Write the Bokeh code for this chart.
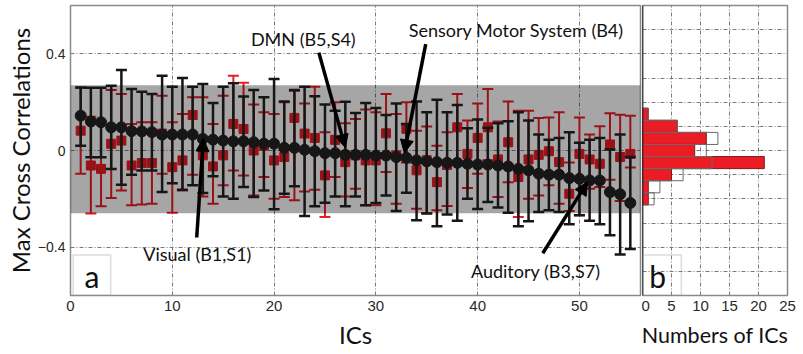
import numpy as np
from bokeh.plotting import figure
from bokeh.layouts import row
from bokeh.models import (ColumnDataSource, Arrow, NormalHead, Label, BoxAnnotation,
                          FixedTicker, Range1d, Span)
from bokeh.embed import file_html
from bokeh.resources import INLINE

# ---- data -------------------------------------------------------------
ic = list(range(1, 56))

black_mean = [0.144, 0.120, 0.117, 0.096, 0.096, 0.080, 0.079, 0.076, 0.066, 0.066,
              0.066, 0.066, 0.048, 0.045, 0.041, 0.038, 0.038, 0.034, 0.028, 0.028,
              0.011, 0.011, 0.003, -0.003, -0.011, -0.011, -0.018, -0.018, -0.018, -0.021,
              -0.021, -0.027, -0.030, -0.041, -0.045, -0.048, -0.051, -0.051, -0.055, -0.058,
              -0.058, -0.062, -0.066, -0.076, -0.082, -0.096, -0.100, -0.100, -0.114, -0.117,
              -0.124, -0.124, -0.172, -0.181, -0.217]
black_hi = [0.261, 0.260, 0.260, 0.268, 0.333, 0.254, 0.243, 0.234, 0.309, 0.264,
            0.300, 0.264, 0.275, 0.197, 0.264, 0.278, 0.223, 0.250, 0.220, 0.296,
            0.203, 0.250, 0.264, 0.224, 0.190, 0.165, 0.202, 0.155, 0.197, 0.176,
            0.147, 0.195, 0.110, 0.203, 0.158, 0.210, 0.158, 0.188, 0.092, 0.128,
            0.094, 0.113, 0.121, 0.158, 0.124, 0.066, 0.045, 0.052, 0.076, 0.032,
            0.044, 0.052, 0.004, 0.066, -0.027]
black_lo = [0.020, -0.028, -0.028, -0.077, -0.142, -0.100, -0.083, -0.083, -0.172, -0.135,
            -0.162, -0.144, -0.176, -0.107, -0.190, -0.200, -0.151, -0.192, -0.165, -0.243,
            -0.179, -0.148, -0.271, -0.231, -0.216, -0.190, -0.231, -0.190, -0.227, -0.217,
            -0.186, -0.250, -0.175, -0.289, -0.261, -0.313, -0.265, -0.291, -0.200, -0.242,
            -0.213, -0.236, -0.258, -0.313, -0.293, -0.254, -0.247, -0.254, -0.305, -0.268,
            -0.291, -0.305, -0.351, -0.430, -0.408]

red_mean = [0.082, -0.062, -0.076, 0.028, 0.041, -0.062, -0.052, -0.052, 0.070, -0.069,
            -0.041, 0.147, -0.020, -0.066, -0.020, 0.110, 0.089, 0.000, 0.020, -0.041,
            -0.027, 0.135, 0.070, 0.052, -0.103, 0.044, -0.048, -0.020, -0.041, -0.041,
            0.071, -0.020, 0.090, -0.082, -0.040, -0.131, -0.060, 0.096, -0.014, 0.052,
            0.096, -0.037, 0.034, -0.110, -0.037, -0.018, -0.003, -0.048, -0.179, -0.014,
            -0.037, -0.055, 0.025, -0.027, -0.014]
red_hi = [0.260, 0.140, 0.120, 0.250, 0.234, 0.110, 0.117, 0.117, 0.227, 0.117,
          0.151, 0.220, 0.220, 0.110, 0.227, 0.309, 0.280, 0.190, 0.158, 0.151,
          0.200, 0.247, 0.195, 0.264, 0.076, 0.200, 0.113, 0.130, 0.170, 0.158,
          0.234, 0.151, 0.200, 0.082, 0.099, 0.020, 0.076, 0.234, 0.124, 0.195,
          0.254, 0.120, 0.203, 0.165, 0.165, 0.135, 0.137, 0.158, -0.050, 0.137,
          0.066, 0.100, 0.154, 0.148, 0.144]
red_lo = [-0.096, -0.261, -0.231, -0.197, -0.165, -0.227, -0.223, -0.220, -0.096, -0.258,
          -0.165, -0.100, -0.190, -0.220, -0.144, -0.083, -0.103, -0.186, -0.110, -0.200,
          -0.192, -0.206, -0.170, -0.162, -0.275, -0.110, -0.190, -0.158, -0.227, -0.227,
          -0.089, -0.220, -0.050, -0.241, -0.260, -0.247, -0.230, -0.050, -0.155, -0.096,
          -0.040, -0.192, -0.131, -0.275, -0.200, -0.186, -0.144, -0.220, -0.250, -0.268,
          -0.158, -0.151, -0.121, -0.209, -0.070]

# significance band
band_hi = 0.27
band_lo = -0.26

# histogram of the maxima (bins of 0.05)
hist_centers = [0.15, 0.10, 0.05, 0.00, -0.05, -0.10, -0.15, -0.20]
hist_red = [1, 6, 11, 9, 21, 5, 1, 1]
hist_open = [1, 6, 13, 11, 12, 7, 3, 2]
bin_width = 0.05

x_ticks = [0, 10, 20, 30, 40, 50]
y_ticks = [-0.4, 0, 0.4]
count_ticks = [0, 5, 10, 15, 20, 25]

RED = "#ec1c24"
DARK = "#161616"
GRID = "#7a7a7a"
LABEL_FONT = "Lato"
TICK_FONT = "Liberation Sans"


def style_axis(ax, label_size="24px"):
    ax.axis_line_color = None
    ax.major_tick_line_color = None
    ax.minor_tick_line_color = None
    ax.major_tick_out = 0
    ax.major_tick_in = 0
    ax.minor_tick_out = 0
    ax.minor_tick_in = 0
    ax.major_label_text_font = TICK_FONT
    ax.major_label_text_font_size = "15px"
    ax.major_label_text_color = "#2a2a2a"
    ax.axis_label_text_font = LABEL_FONT
    ax.axis_label_text_font_size = label_size
    ax.axis_label_text_font_style = "normal"
    ax.axis_label_text_color = "#111111"


def style_grid(g):
    g.grid_line_color = GRID
    g.grid_line_dash = "4 2 1 2"
    g.grid_line_width = 1


# ---- main panel ---------------------------------------------------------
p = figure(width=641, height=354, x_range=Range1d(0, 56), y_range=Range1d(-0.6, 0.6),
           output_backend="svg", toolbar_location=None,
           min_border_left=70, min_border_right=1, min_border_top=5, min_border_bottom=59)
p.background_fill_color = "white"
p.outline_line_color = "#8a8a8a"
p.outline_line_width = 1.5

style_axis(p.xaxis[0])
style_axis(p.yaxis[0])
p.yaxis.major_label_text_font_size = "14px"
p.xaxis.ticker = FixedTicker(ticks=x_ticks)
p.xaxis.major_label_standoff = 5
p.xaxis.axis_label = "ICs"
p.xaxis.axis_label_standoff = 6
p.yaxis.ticker = FixedTicker(ticks=y_ticks)
p.yaxis.major_label_overrides = {0: "0", 0.4: "0.4", -0.4: "\u22120.4"}
p.yaxis.major_label_standoff = 5
p.yaxis.axis_label = "Max Cross Correlations"
p.yaxis.axis_label_standoff = 0

p.xgrid.ticker = FixedTicker(ticks=x_ticks[1:])
p.ygrid.ticker = FixedTicker(ticks=y_ticks)
style_grid(p.xgrid[0])
style_grid(p.ygrid[0])

src = ColumnDataSource(dict(ic=ic, bm=black_mean, bh=black_hi, bl=black_lo,
                            rm=red_mean, rh=red_hi, rl=red_lo))

# red series (behind the band)
p.segment(x0="ic", y0="rl", x1="ic", y1="rh", source=src, line_color=RED, line_width=2)
p.scatter(x="ic", y="rh", source=src, marker="dash", size=11, line_color=RED, line_width=2)
p.scatter(x="ic", y="rl", source=src, marker="dash", size=11, line_color=RED, line_width=2)
p.scatter(x="ic", y="rm", source=src, marker="square", size=9, fill_color=RED, line_color=RED)

# shaded band
p.quad(left=p.x_range.start, right=p.x_range.end, top=band_hi, bottom=band_lo,
       fill_color="black", fill_alpha=0.35, line_color=None)

# black series
p.segment(x0="ic", y0="bl", x1="ic", y1="bh", source=src, line_color=DARK, line_width=2.5)
p.scatter(x="ic", y="bh", source=src, marker="dash", size=11, line_color=DARK, line_width=2.5)
p.scatter(x="ic", y="bl", source=src, marker="dash", size=11, line_color=DARK, line_width=2.5)
p.scatter(x="ic", y="bm", source=src, marker="circle", size=11, fill_color=DARK, line_color=DARK)

# callouts: text, text position, arrow tail, arrow tip
callouts = [
    ("Visual (B1,S1)", 12.46, -0.43, 12.4, -0.36, 13.05, 0.05),
    ("DMN (B5,S4)", 22.87, 0.463, 24.4, 0.405, 27.0, 0.012),
    ("Sensory Motor System (B4)", 43.8, 0.5, 34.9, 0.44, 32.8, -0.01),
    ("Auditory (B3,S7)", 45.7, -0.5, 46.4, -0.425, 50.8, -0.13),
]
for text, tx, ty, xs, ys, xe, ye in callouts:
    p.add_layout(Label(x=tx, y=ty, text=text, text_align="center", text_baseline="middle",
                       text_font=LABEL_FONT, text_font_size="18px", text_color="#111111"))
    p.add_layout(Arrow(x_start=xs, y_start=ys, x_end=xe, y_end=ye, line_width=3.5,
                       line_color="black",
                       end=NormalHead(size=13, fill_color="black", line_color="black")))

p.add_layout(BoxAnnotation(left=0.26, right=3.95, bottom=-0.6, top=-0.432,
                           fill_alpha=0, line_color="#8a8a8a", line_width=1.5))
p.add_layout(Label(x=2.1, y=-0.52, text="a", text_align="center", text_baseline="middle",
                   text_font=LABEL_FONT, text_font_size="30px", text_color="#111111"))

# ---- histogram panel ----------------------------------------------------
h = figure(width=162, height=354, x_range=Range1d(0, 25), y_range=Range1d(-0.6, 0.6),
           output_backend="svg", toolbar_location=None,
           min_border_left=1, min_border_right=16, min_border_top=5, min_border_bottom=59)
h.outline_line_color = "#8a8a8a"
h.outline_line_width = 1.5
h.yaxis.visible = False
hx = h.xaxis[0]
style_axis(hx, label_size="21.5px")
hx.ticker = FixedTicker(ticks=count_ticks)
hx.major_label_standoff = 5
hx.axis_label = "Numbers of ICs"
hx.axis_label_standoff = 8

h.xgrid.ticker = FixedTicker(ticks=count_ticks[1:])
h.ygrid.ticker = FixedTicker(ticks=[-0.5, -0.4, -0.3, -0.2, -0.1, 0, 0.1, 0.2, 0.3, 0.4, 0.5])
style_grid(h.xgrid[0])
style_grid(h.ygrid[0])

hsrc = ColumnDataSource(dict(y=hist_centers, red=hist_red, open=hist_open))
h.hbar(y="y", height=bin_width, left=0, right="red", source=hsrc,
       fill_color=RED, line_color="#7a1f1f", line_width=1)
h.hbar(y="y", height=bin_width, left=0, right="open", source=hsrc,
       fill_alpha=0, line_color="#6a6a6a", line_width=1)
h.add_layout(Span(location=0, dimension="height", line_color="black", line_width=1.5))

h.add_layout(BoxAnnotation(left=0, right=6.7, bottom=-0.6, top=-0.432,
                           fill_alpha=0, line_color="#8a8a8a", line_width=1.5))
h.add_layout(Label(x=2.6, y=-0.52, text="b", text_align="center", text_baseline="middle",
                   text_font=LABEL_FONT, text_font_size="30px", text_color="#111111"))

layout = row(p, h, spacing=0)
open("out.html", "w").write(file_html(layout, INLINE))
